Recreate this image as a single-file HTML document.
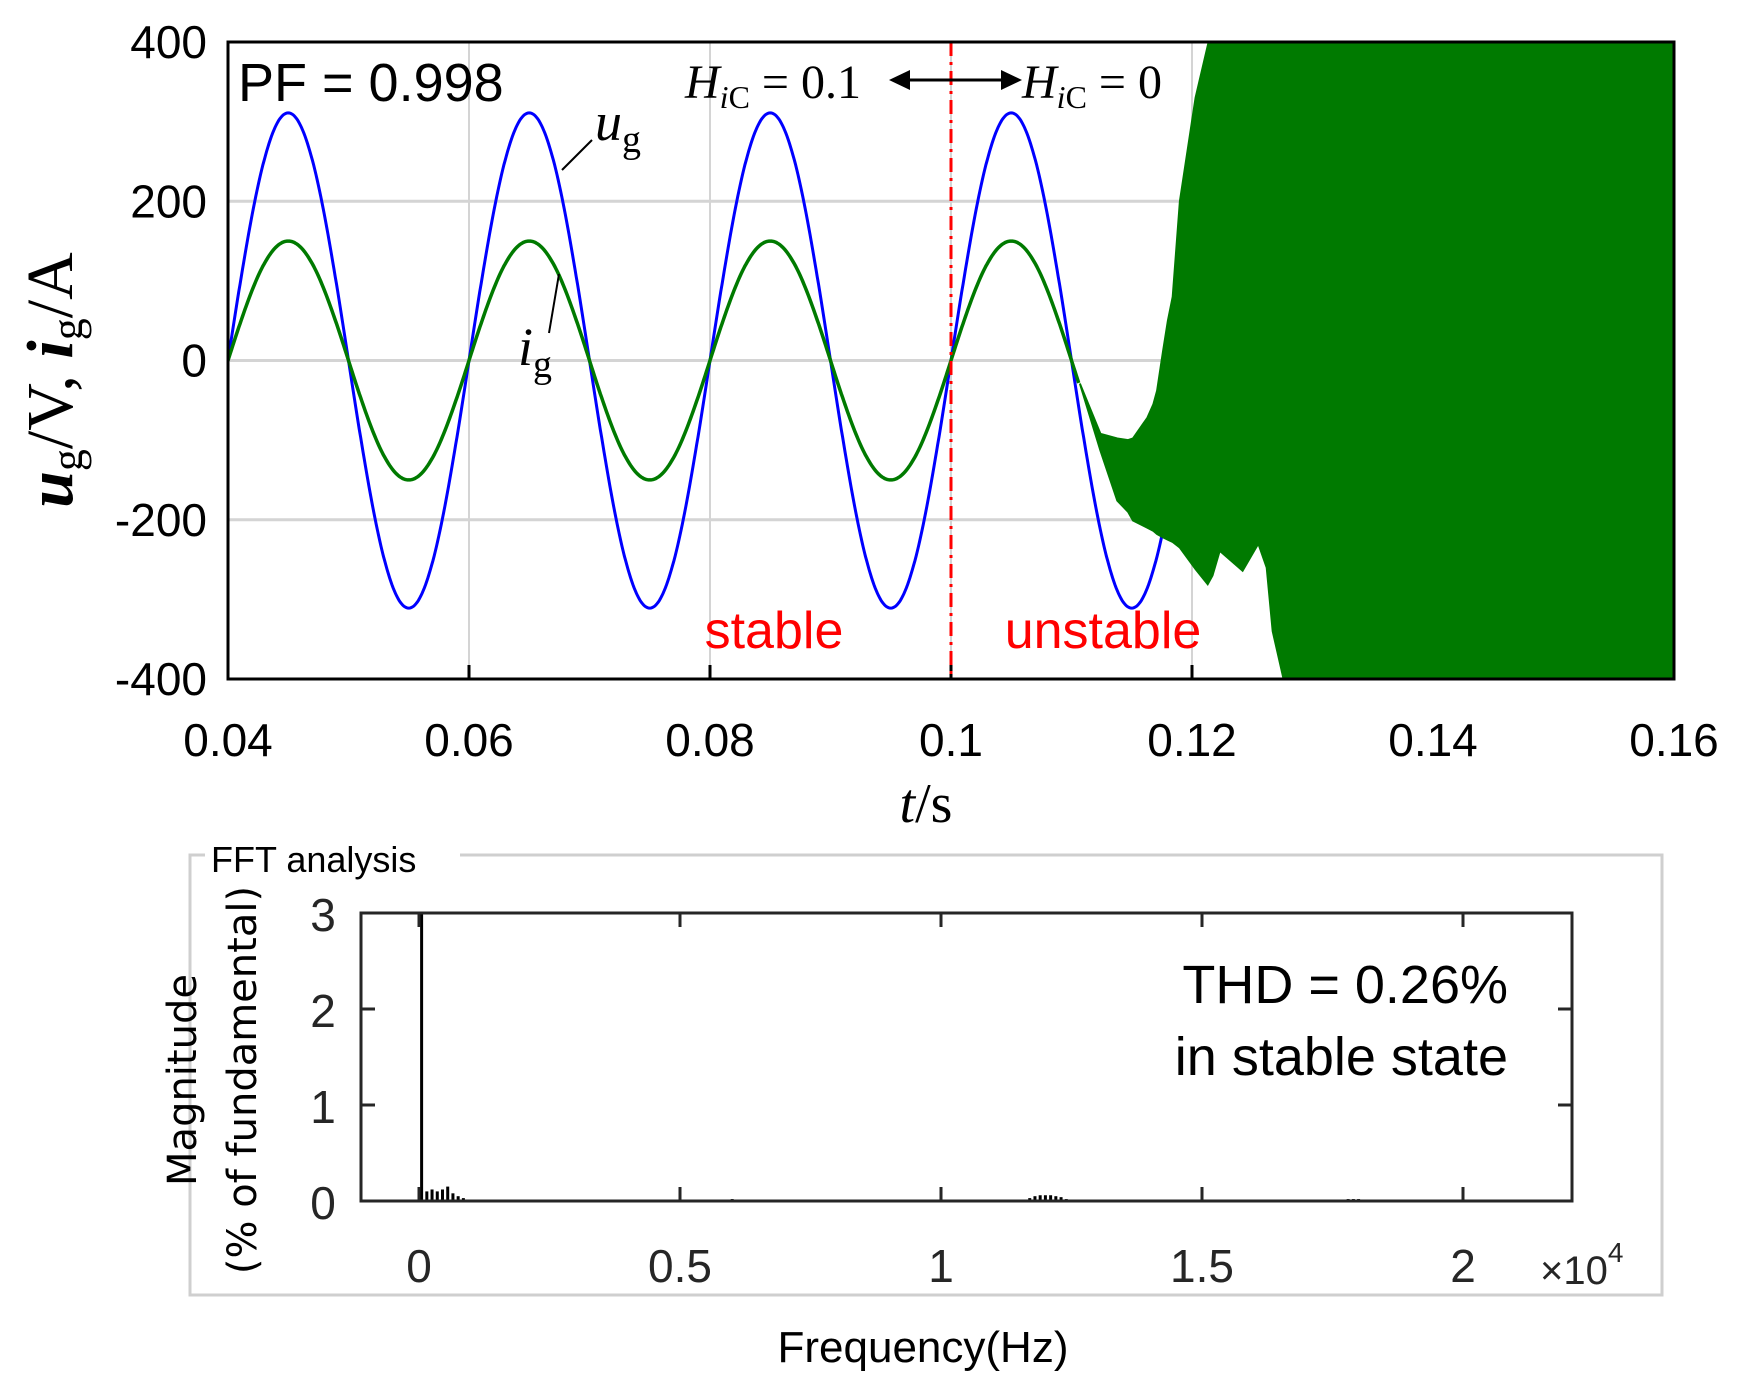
<!DOCTYPE html>
<html><head><meta charset="utf-8"><style>
html,body{margin:0;padding:0;background:#fff;}
svg{display:block;}
</style></head><body>
<svg id="fig" width="1744" height="1394" viewBox="0 0 1744 1394" xmlns="http://www.w3.org/2000/svg">
<defs><clipPath id="clipTop"><rect x="228" y="42" width="1446" height="637"/></clipPath></defs>
<g id="topChart"></g>
<g id="botChart"></g>
<text x="238" y="101" font-family="Liberation Sans, sans-serif" font-size="54">PF = 0.998</text>
<g font-family="Liberation Serif, serif" font-size="48">
<text x="685" y="98"><tspan font-style="italic">H</tspan><tspan font-size="32" dy="10"><tspan font-style="italic">i</tspan>C</tspan><tspan dy="-10"> = 0.1</tspan></text>
<text x="1022" y="98"><tspan font-style="italic">H</tspan><tspan font-size="32" dy="10"><tspan font-style="italic">i</tspan>C</tspan><tspan dy="-10"> = 0</tspan></text>
</g>
<g stroke="#000" stroke-width="3" fill="#000">
<line x1="905" y1="80" x2="1005" y2="80"/>
<polygon points="889,80 910,70 910,90" stroke="none"/>
<polygon points="1022,80 1001,70 1001,90" stroke="none"/>
</g>
<line x1="562" y1="170" x2="592" y2="140" stroke="#000" stroke-width="2"/>
<text x="595" y="140" font-family="Liberation Serif, serif" font-size="54"><tspan font-style="italic">u</tspan><tspan font-size="38" dy="12">g</tspan></text>
<line x1="549" y1="333" x2="559" y2="274" stroke="#000" stroke-width="2"/>
<text x="518" y="365" font-family="Liberation Serif, serif" font-size="54"><tspan font-style="italic">i</tspan><tspan font-size="38" dy="12">g</tspan></text>
<text x="774" y="648" text-anchor="middle" font-family="Liberation Sans, sans-serif" font-size="52" fill="#ff0000">stable</text>
<text x="1103" y="648" text-anchor="middle" font-family="Liberation Sans, sans-serif" font-size="52" fill="#ff0000">unstable</text>
<text x="926" y="822" text-anchor="middle" font-family="Liberation Serif, serif" font-size="56"><tspan font-style="italic">t</tspan>/s</text>
<text transform="translate(72,380) rotate(-90)" text-anchor="middle" font-family="Liberation Serif, serif" font-size="66"><tspan font-style="italic" font-weight="bold">u</tspan><tspan font-size="44" dy="10">g</tspan><tspan dy="-10">/V, </tspan><tspan font-style="italic" font-weight="bold">i</tspan><tspan font-size="44" dy="10">g</tspan><tspan dy="-10">/A</tspan></text>
<text font-family="Liberation Sans, sans-serif" font-size="54" text-anchor="end"><tspan x="1508" y="1003">THD = 0.26%</tspan><tspan x="1508" y="1075">in stable state</tspan></text>
<text x="1540" y="1284" font-family="Liberation Sans, sans-serif" font-size="40" fill="#262626">×10<tspan font-size="28" dy="-22">4</tspan></text>
<text x="923" y="1362" text-anchor="middle" font-family="Liberation Sans, sans-serif" font-size="44">Frequency(Hz)</text>
<text transform="translate(196,1080) rotate(-90)" text-anchor="middle" font-family="DejaVu Sans, sans-serif" font-size="40">Magnitude</text>
<text transform="translate(256,1080) rotate(-90)" text-anchor="middle" font-family="DejaVu Sans, sans-serif" font-size="40">(% of fundamental)</text>
</svg>
<script>
// ---------- top chart data ----------
const xTicks = [0.04,0.06,0.08,0.1,0.12,0.14,0.16];
const xTickLabels = ["0.04","0.06","0.08","0.1","0.12","0.14","0.16"];
const yTicks = [400,200,0,-200,-400];
const yTickLabels = ["400","200","0","-200","-400"];
const ugAmp = [311];
const igAmp = [150];
const gridFreq = [50];
const switchTime = [0.1];
const unstableStart = [0.1107];
const envT  = [0.1107,0.1124,0.1138,0.1147,0.1151,0.1163,0.1168,0.1171,0.1176,0.118,0.1184,0.119,0.1203,0.1213,0.1217,0.1223,0.1242,0.1255,0.1262,0.1267,0.1279,0.16];
const envUp = [-29,-92,-98,-100,-98,-72,-55,-38,12,50,80,200,330,395,420,420,420,420,420,420,420,420];
const envLo = [-29,-113,-176,-190,-201,-210,-214,-218,-222,-225,-228,-235,-262,-281,-270,-239,-264,-230,-260,-340,-420,-420];
// ---------- fft data ----------
const fftXTicks = [0,5000,10000,15000,20000];
const fftXLabels = ["0","0.5","1","1.5","2"];
const fftYTicks = [0,1,2,3];
const fftYLabels = ["0","1","2","3"];
const fftFreq = [0,50,150,250,350,450,550,650,750,850,950,1050,1150,1250,3600,3700,3800,5900,6000,6100,11700,11800,11900,12000,12100,12200,12300,12400,17600,17700,17800,17900,18000,18100,18200,18300];
const fftMag  = [0.14,3.5,0.10,0.12,0.10,0.12,0.15,0.08,0.05,0.03,0.015,0.015,0.015,0.015,0.01,0.01,0.01,0.015,0.02,0.015,0.03,0.05,0.06,0.06,0.06,0.05,0.04,0.02,0.01,0.015,0.02,0.02,0.02,0.015,0.015,0.01];

const NS="http://www.w3.org/2000/svg";
function mk(parent,tag,attrs,text){const e=document.createElementNS(NS,tag);for(const k in attrs)e.setAttribute(k,attrs[k]);if(text!==undefined)e.textContent=text;parent.appendChild(e);return e;}

const L=228,R=1674,T=42,B=679;
const X=t=>L+(t-0.04)/0.12*(R-L);
const Y=v=>B-(v+400)/800*(B-T);
const topG=document.getElementById('topChart');
xTicks.forEach((t,i)=>{
  if(i>0&&i<xTicks.length-1){const g=mk(topG,'line',{x1:X(t),x2:X(t),y1:T,y2:B,stroke:'#d4d4d4','stroke-width':2});
  
  }
  const tl=mk(topG,'text',{x:X(t),y:756,'text-anchor':'middle','font-family':'Liberation Sans, sans-serif','font-size':46},xTickLabels[i]);
  
  
  const tk=mk(topG,'line',{x1:X(t),x2:X(t),y1:B,y2:B-14,stroke:'#000','stroke-width':3});
  
  
});
yTicks.forEach((v,i)=>{
  if(i>0&&i<yTicks.length-1){const g=mk(topG,'line',{x1:L,x2:R,y1:Y(v),y2:Y(v),stroke:'#d4d4d4','stroke-width':3});
  
  }
  const tl=mk(topG,'text',{x:207,y:Y(v)+16,'text-anchor':'end','font-family':'Liberation Sans, sans-serif','font-size':46},yTickLabels[i]);
  
  
});
const cg=mk(topG,'g',{'clip-path':'url(#clipTop)'});


let pu='',pi='';
for(let t=0.04;t<=0.16+1e-9;t+=0.0001){
  const s=Math.sin(2*Math.PI*gridFreq[0]*t);
  pu+=(pu?'L':'M')+X(t).toFixed(1)+','+Y(ugAmp[0]*s).toFixed(1);
  if(t<=unstableStart[0]) pi+=(pi?'L':'M')+X(t).toFixed(1)+','+Y(igAmp[0]*s).toFixed(1);
}
const ug=mk(cg,'path',{d:pu,fill:'none',stroke:'#0000ff','stroke-width':3});


const ig=mk(cg,'path',{d:pi,fill:'none',stroke:'#007a00','stroke-width':3.5});


let pe='';
envT.forEach((t,i)=>{pe+=(i?'L':'M')+X(t).toFixed(1)+','+Y(envUp[i]).toFixed(1);});
for(let i=envT.length-1;i>=0;i--) pe+='L'+X(envT[i]).toFixed(1)+','+Y(envLo[i]).toFixed(1);
const env=mk(cg,'path',{d:pe+'Z',fill:'#007a00',stroke:'#007a00','stroke-width':2});


const sw=mk(topG,'line',{x1:X(switchTime[0]),x2:X(switchTime[0]),y1:T,y2:B,stroke:'#ff0000','stroke-width':3,'stroke-dasharray':'14,6,3,6'});


const fr=mk(topG,'rect',{x:L,y:T,width:R-L,height:B-T,fill:'none',stroke:'#000','stroke-width':3});



// ---------- bottom chart ----------
const botG=document.getElementById('botChart');
const BL=361,BR=1572,BT=913,BB=1201;
const FX=f=>419+f/5000*261;
const FY=m=>BB-m/3*(BB-BT);
const box=mk(botG,'rect',{x:190,y:855,width:1472,height:440,fill:'none',stroke:'#cfcfcf','stroke-width':3});


const ttlbg=mk(botG,'rect',{x:205,y:840,width:255,height:30,fill:'#fff'});


const ttl=mk(botG,'text',{x:211,y:872,'font-family':'Liberation Sans, sans-serif','font-size':36},'FFT analysis');


const bg=mk(botG,'g',{});


fftFreq.forEach((f,i)=>{
  const m=Math.min(fftMag[i],3);
  const w=3;
  const r=mk(bg,'rect',{x:FX(f)-w/2,y:FY(m),width:w,height:BB-FY(m),fill:'#000'});
  
  
});
fftXTicks.forEach((f,i)=>{
  const a=mk(botG,'line',{x1:FX(f),x2:FX(f),y1:BB,y2:BB-14,stroke:'#262626','stroke-width':3});
  
  
  const b=mk(botG,'line',{x1:FX(f),x2:FX(f),y1:BT,y2:BT+14,stroke:'#262626','stroke-width':3});
  
  
  const tl=mk(botG,'text',{x:FX(f),y:1282,'text-anchor':'middle','font-family':'Liberation Sans, sans-serif','font-size':46,fill:'#262626'},fftXLabels[i]);
  
  
});
fftYTicks.forEach((m,i)=>{
  const a=mk(botG,'line',{x1:BL,x2:BL+14,y1:FY(m),y2:FY(m),stroke:'#262626','stroke-width':3});
  
  
  const b=mk(botG,'line',{x1:BR,x2:BR-14,y1:FY(m),y2:FY(m),stroke:'#262626','stroke-width':3});
  
  
  const tl=mk(botG,'text',{x:323,y:FY(m)+18,'text-anchor':'middle','font-family':'Liberation Sans, sans-serif','font-size':46,fill:'#262626'},fftYLabels[i]);
  
  
});
const bf=mk(botG,'rect',{x:BL,y:BT,width:BR-BL,height:BB-BT,fill:'none',stroke:'#262626','stroke-width':3});


</script>
</body></html>
